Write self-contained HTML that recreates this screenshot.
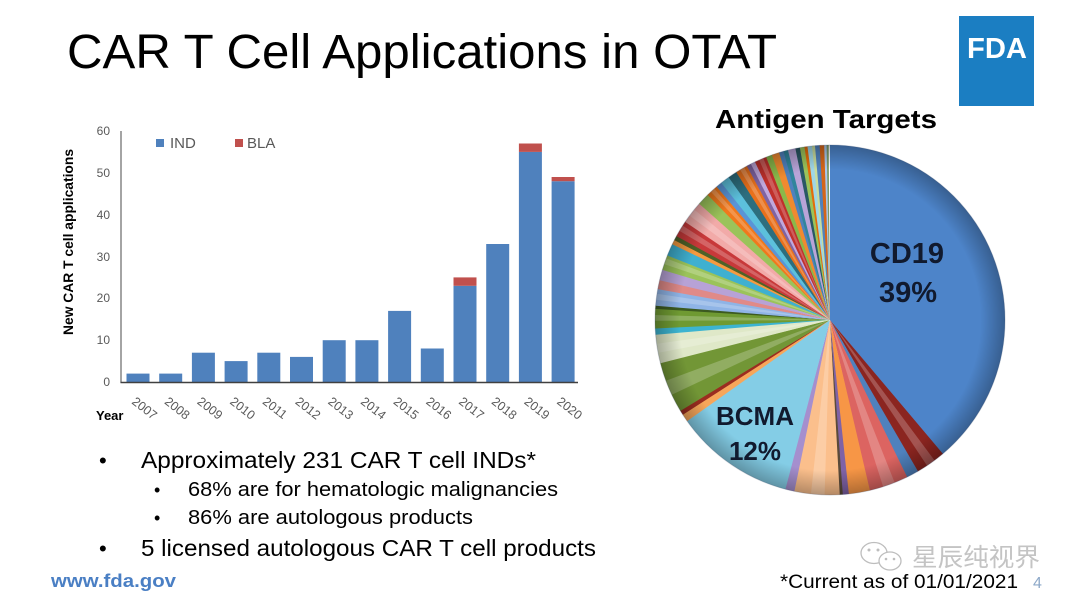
<!DOCTYPE html>
<html><head><meta charset="utf-8"><style>
html,body{margin:0;padding:0;background:#fff;}
svg{display:block;}
text{font-family:"Liberation Sans","Noto Sans CJK SC",sans-serif;}
</style></head><body>
<svg width="1080" height="608" viewBox="0 0 1080 608" xmlns="http://www.w3.org/2000/svg">
<defs>
<radialGradient id="rim" cx="830" cy="320" r="175" gradientUnits="userSpaceOnUse">
<stop offset="0" stop-color="#000" stop-opacity="0"/>
<stop offset="0.86" stop-color="#000" stop-opacity="0"/>
<stop offset="1" stop-color="#000" stop-opacity="0.28"/>
</radialGradient>
</defs>
<rect width="1080" height="608" fill="#fff"/>

<!-- Title -->
<text x="67" y="68" font-size="48" fill="#000" textLength="710" lengthAdjust="spacingAndGlyphs">CAR T Cell Applications in OTAT</text>

<!-- FDA logo -->
<rect x="959" y="16" width="75" height="90" fill="#1b7ec2"/>
<text x="967" y="58" font-size="29" font-weight="bold" fill="#fff" textLength="60" lengthAdjust="spacingAndGlyphs">FDA</text>

<!-- Bar chart -->
<g>
<text transform="translate(73,242) rotate(-90)" text-anchor="middle" font-size="13.5" font-weight="bold" fill="#000" textLength="186" lengthAdjust="spacingAndGlyphs">New CAR T cell applications</text>
<g font-size="12" fill="#595959" text-anchor="end">
<text x="110" y="135">60</text>
<text x="110" y="177">50</text>
<text x="110" y="219">40</text>
<text x="110" y="261">30</text>
<text x="110" y="302">20</text>
<text x="110" y="344">10</text>
<text x="110" y="386">0</text>
</g>
<rect x="156" y="139" width="8" height="8" fill="#4f81bd"/>
<text x="170" y="148" font-size="15" fill="#595959">IND</text>
<rect x="235" y="139" width="8" height="8" fill="#c0504d"/>
<text x="247" y="148" font-size="15" fill="#595959">BLA</text>

<g fill="#4f81bd">
<rect x="126.5" y="373.6" width="23" height="8.9"/>
<rect x="159.2" y="373.6" width="23" height="8.9"/>
<rect x="191.9" y="352.7" width="23" height="29.8"/>
<rect x="224.6" y="361.1" width="23" height="21.4"/>
<rect x="257.3" y="352.7" width="23" height="29.8"/>
<rect x="290" y="356.9" width="23" height="25.6"/>
<rect x="322.7" y="340.2" width="23" height="42.3"/>
<rect x="355.4" y="340.2" width="23" height="42.3"/>
<rect x="388.1" y="310.9" width="23" height="71.6"/>
<rect x="420.8" y="348.5" width="23" height="34"/>
<rect x="453.5" y="285.8" width="23" height="96.7"/>
<rect x="486.2" y="244" width="23" height="138.5"/>
<rect x="518.9" y="151.9" width="23" height="230.6"/>
<rect x="551.6" y="181.2" width="23" height="201.3"/>
</g>
<g fill="#c0504d">
<rect x="453.5" y="277.4" width="23" height="8.4"/>
<rect x="518.9" y="143.5" width="23" height="8.4"/>
<rect x="551.6" y="177" width="23" height="4.2"/>
</g>
<line x1="121" y1="131" x2="121" y2="382.5" stroke="#868686" stroke-width="1.5"/>
<line x1="120.5" y1="382.5" x2="578" y2="382.5" stroke="#404040" stroke-width="1.6"/>

<text x="96" y="420" font-size="13" font-weight="bold" fill="#000">Year</text>
<g font-size="12.5" fill="#595959">
<text transform="translate(131,403) rotate(38)">2007</text>
<text transform="translate(163.7,403) rotate(38)">2008</text>
<text transform="translate(196.4,403) rotate(38)">2009</text>
<text transform="translate(229.1,403) rotate(38)">2010</text>
<text transform="translate(261.8,403) rotate(38)">2011</text>
<text transform="translate(294.5,403) rotate(38)">2012</text>
<text transform="translate(327.2,403) rotate(38)">2013</text>
<text transform="translate(359.9,403) rotate(38)">2014</text>
<text transform="translate(392.6,403) rotate(38)">2015</text>
<text transform="translate(425.3,403) rotate(38)">2016</text>
<text transform="translate(458,403) rotate(38)">2017</text>
<text transform="translate(490.7,403) rotate(38)">2018</text>
<text transform="translate(523.4,403) rotate(38)">2019</text>
<text transform="translate(556.1,403) rotate(38)">2020</text>
</g>
</g>

<!-- Bullets -->
<g fill="#000">
<text x="99" y="468" font-size="22">•</text>
<text x="141" y="468" font-size="23" textLength="395" lengthAdjust="spacingAndGlyphs">Approximately 231 CAR T cell INDs*</text>
<text x="154" y="496" font-size="18">•</text>
<text x="188" y="496" font-size="20" textLength="370" lengthAdjust="spacingAndGlyphs">68% are for hematologic malignancies</text>
<text x="154" y="524" font-size="18">•</text>
<text x="188" y="524" font-size="20" textLength="285" lengthAdjust="spacingAndGlyphs">86% are autologous products</text>
<text x="99" y="556" font-size="22">•</text>
<text x="141" y="556" font-size="23" textLength="455" lengthAdjust="spacingAndGlyphs">5 licensed autologous CAR T cell products</text>
</g>
<text x="51" y="587" font-size="18" font-weight="bold" fill="#4a7fc4" textLength="125" lengthAdjust="spacingAndGlyphs">www.fda.gov</text>

<!-- Antigen Targets -->
<text x="715" y="128" font-size="26" font-weight="bold" fill="#000" textLength="222" lengthAdjust="spacingAndGlyphs">Antigen Targets</text>

<!-- Pie -->
<g transform="rotate(-90 830 320)" fill="none" stroke-width="175">
<circle cx="830" cy="320" r="87.5" pathLength="360" stroke="#4d84c9" stroke-dasharray="140.3 360" stroke-dashoffset="0"/>
<circle cx="830" cy="320" r="87.5" pathLength="360" stroke="#8b2520" stroke-dasharray="10.3 360" stroke-dashoffset="-140"/>
<circle cx="830" cy="320" r="87.5" pathLength="360" stroke="#4f81bd" stroke-dasharray="4.3 360" stroke-dashoffset="-150"/>
<circle cx="830" cy="320" r="87.5" pathLength="360" stroke="#dc6461" stroke-dasharray="13.3 360" stroke-dashoffset="-154"/>
<circle cx="830" cy="320" r="87.5" pathLength="360" stroke="#f79646" stroke-dasharray="7.3 360" stroke-dashoffset="-167"/>
<circle cx="830" cy="320" r="87.5" pathLength="360" stroke="#7f62a6" stroke-dasharray="2.3 360" stroke-dashoffset="-174"/>
<circle cx="830" cy="320" r="87.5" pathLength="360" stroke="#5a4a3a" stroke-dasharray="1.3 360" stroke-dashoffset="-176"/>
<circle cx="830" cy="320" r="87.5" pathLength="360" stroke="#fbbf8c" stroke-dasharray="15.3 360" stroke-dashoffset="-177"/>
<circle cx="830" cy="320" r="87.5" pathLength="360" stroke="#a58fce" stroke-dasharray="3.3 360" stroke-dashoffset="-192"/>
<circle cx="830" cy="320" r="87.5" pathLength="360" stroke="#84cde6" stroke-dasharray="40.3 360" stroke-dashoffset="-195"/>
<circle cx="830" cy="320" r="87.5" pathLength="360" stroke="#f7a65a" stroke-dasharray="2.8 360" stroke-dashoffset="-235"/>
<circle cx="830" cy="320" r="87.5" pathLength="360" stroke="#9b2d20" stroke-dasharray="1.8 360" stroke-dashoffset="-237.5"/>
<circle cx="830" cy="320" r="87.5" pathLength="360" stroke="#729636" stroke-dasharray="17.3 360" stroke-dashoffset="-239"/>
<circle cx="830" cy="320" r="87.5" pathLength="360" stroke="#dfe8c8" stroke-dasharray="9.8 360" stroke-dashoffset="-256"/>
<circle cx="830" cy="320" r="87.5" pathLength="360" stroke="#3cb4d0" stroke-dasharray="2.3 360" stroke-dashoffset="-265.5"/>
<circle cx="830" cy="320" r="87.5" pathLength="360" stroke="#6f9a32" stroke-dasharray="6.8 360" stroke-dashoffset="-267.5"/>
<circle cx="830" cy="320" r="87.5" pathLength="360" stroke="#3c5a20" stroke-dasharray="1.3 360" stroke-dashoffset="-274"/>
<circle cx="830" cy="320" r="87.5" pathLength="360" stroke="#8fb4e6" stroke-dasharray="5.8 360" stroke-dashoffset="-275"/>
<circle cx="830" cy="320" r="87.5" pathLength="360" stroke="#e08a88" stroke-dasharray="3.3 360" stroke-dashoffset="-280.5"/>
<circle cx="830" cy="320" r="87.5" pathLength="360" stroke="#b7a2d6" stroke-dasharray="3.8 360" stroke-dashoffset="-283.5"/>
<circle cx="830" cy="320" r="87.5" pathLength="360" stroke="#9bc35a" stroke-dasharray="5.3 360" stroke-dashoffset="-287"/>
<circle cx="830" cy="320" r="87.5" pathLength="360" stroke="#3fb0d0" stroke-dasharray="4.3 360" stroke-dashoffset="-292"/>
<circle cx="830" cy="320" r="87.5" pathLength="360" stroke="#f59a40" stroke-dasharray="1.8 360" stroke-dashoffset="-296"/>
<circle cx="830" cy="320" r="87.5" pathLength="360" stroke="#4f6228" stroke-dasharray="1.8 360" stroke-dashoffset="-297.5"/>
<circle cx="830" cy="320" r="87.5" pathLength="360" stroke="#c8393a" stroke-dasharray="5.8 360" stroke-dashoffset="-299"/>
<circle cx="830" cy="320" r="87.5" pathLength="360" stroke="#f2aaa8" stroke-dasharray="7.8 360" stroke-dashoffset="-304.5"/>
<circle cx="830" cy="320" r="87.5" pathLength="360" stroke="#9bc35a" stroke-dasharray="4.3 360" stroke-dashoffset="-312"/>
<circle cx="830" cy="320" r="87.5" pathLength="360" stroke="#f0781c" stroke-dasharray="4.3 360" stroke-dashoffset="-316"/>
<circle cx="830" cy="320" r="87.5" pathLength="360" stroke="#5a94d6" stroke-dasharray="2.3 360" stroke-dashoffset="-320"/>
<circle cx="830" cy="320" r="87.5" pathLength="360" stroke="#5cc0dc" stroke-dasharray="3.3 360" stroke-dashoffset="-322"/>
<circle cx="830" cy="320" r="87.5" pathLength="360" stroke="#2d6e7e" stroke-dasharray="3.3 360" stroke-dashoffset="-325"/>
<circle cx="830" cy="320" r="87.5" pathLength="360" stroke="#e8701c" stroke-dasharray="4.3 360" stroke-dashoffset="-328"/>
<circle cx="830" cy="320" r="87.5" pathLength="360" stroke="#8064a2" stroke-dasharray="1.8 360" stroke-dashoffset="-332"/>
<circle cx="830" cy="320" r="87.5" pathLength="360" stroke="#c0a8dc" stroke-dasharray="1.8 360" stroke-dashoffset="-333.5"/>
<circle cx="830" cy="320" r="87.5" pathLength="360" stroke="#c0302c" stroke-dasharray="4.3 360" stroke-dashoffset="-335"/>
<circle cx="830" cy="320" r="87.5" pathLength="360" stroke="#8ab84a" stroke-dasharray="2.3 360" stroke-dashoffset="-339"/>
<circle cx="830" cy="320" r="87.5" pathLength="360" stroke="#f08a30" stroke-dasharray="2.8 360" stroke-dashoffset="-341"/>
<circle cx="830" cy="320" r="87.5" pathLength="360" stroke="#4f81bd" stroke-dasharray="1.8 360" stroke-dashoffset="-343.5"/>
<circle cx="830" cy="320" r="87.5" pathLength="360" stroke="#31859c" stroke-dasharray="1.8 360" stroke-dashoffset="-345"/>
<circle cx="830" cy="320" r="87.5" pathLength="360" stroke="#b8a4d8" stroke-dasharray="2.8 360" stroke-dashoffset="-346.5"/>
<circle cx="830" cy="320" r="87.5" pathLength="360" stroke="#2a5864" stroke-dasharray="1.8 360" stroke-dashoffset="-349"/>
<circle cx="830" cy="320" r="87.5" pathLength="360" stroke="#9bc35a" stroke-dasharray="1.8 360" stroke-dashoffset="-350.5"/>
<circle cx="830" cy="320" r="87.5" pathLength="360" stroke="#e46c0a" stroke-dasharray="1.3 360" stroke-dashoffset="-352"/>
<circle cx="830" cy="320" r="87.5" pathLength="360" stroke="#9fd6e6" stroke-dasharray="1.8 360" stroke-dashoffset="-353"/>
<circle cx="830" cy="320" r="87.5" pathLength="360" stroke="#c8dc9e" stroke-dasharray="1.3 360" stroke-dashoffset="-354.5"/>
<circle cx="830" cy="320" r="87.5" pathLength="360" stroke="#4f81bd" stroke-dasharray="1.8 360" stroke-dashoffset="-355.5"/>
<circle cx="830" cy="320" r="87.5" pathLength="360" stroke="#d4661a" stroke-dasharray="1.8 360" stroke-dashoffset="-357"/>
<circle cx="830" cy="320" r="87.5" pathLength="360" stroke="#a9c8ee" stroke-dasharray="1.1 360" stroke-dashoffset="-358.5"/>
<circle cx="830" cy="320" r="87.5" pathLength="360" stroke="#7a9a6a" stroke-dasharray="0.7 360" stroke-dashoffset="-359.3"/>
<!-- gloss stripes -->
<g stroke="#fff" stroke-opacity="0.22">
<circle cx="830" cy="320" r="87.5" pathLength="360" stroke-dasharray="3 360" stroke-dashoffset="-143.5"/>
<circle cx="830" cy="320" r="87.5" pathLength="360" stroke-dasharray="4 360" stroke-dashoffset="-158.5"/>
<circle cx="830" cy="320" r="87.5" pathLength="360" stroke-dasharray="4.5 360" stroke-dashoffset="-182"/>
<circle cx="830" cy="320" r="87.5" pathLength="360" stroke-dasharray="5 360" stroke-dashoffset="-245"/>
<circle cx="830" cy="320" r="87.5" pathLength="360" stroke-dasharray="3 360" stroke-dashoffset="-259.5"/>
<circle cx="830" cy="320" r="87.5" pathLength="360" stroke-dasharray="2 360" stroke-dashoffset="-270"/>
<circle cx="830" cy="320" r="87.5" pathLength="360" stroke-dasharray="2 360" stroke-dashoffset="-277"/>
<circle cx="830" cy="320" r="87.5" pathLength="360" stroke-dasharray="2 360" stroke-dashoffset="-289"/>
<circle cx="830" cy="320" r="87.5" pathLength="360" stroke-dasharray="2 360" stroke-dashoffset="-301"/>
<circle cx="830" cy="320" r="87.5" pathLength="360" stroke-dasharray="2.5 360" stroke-dashoffset="-307"/>
<circle cx="830" cy="320" r="87.5" pathLength="360" stroke-dasharray="1.5 360" stroke-dashoffset="-317.5"/>
<circle cx="830" cy="320" r="87.5" pathLength="360" stroke-dasharray="1.5 360" stroke-dashoffset="-329.5"/>
<circle cx="830" cy="320" r="87.5" pathLength="360" stroke-dasharray="1.5 360" stroke-dashoffset="-336.5"/>
</g>
</g>
<circle cx="830" cy="320" r="175" fill="url(#rim)"/>
<circle cx="830" cy="320" r="175" fill="none" stroke="#3a4a66" stroke-opacity="0.25" stroke-width="1"/>

<g font-weight="bold" fill="#111a2e" text-anchor="middle">
<text x="907" y="263" font-size="29">CD19</text>
<text x="908" y="302" font-size="29">39%</text>
<text x="755" y="425" font-size="26">BCMA</text>
<text x="755" y="460" font-size="26">12%</text>
</g>

<!-- Watermark -->
<g fill="#fff" stroke="#bdbdbd" stroke-width="1.3">
<ellipse cx="874" cy="553" rx="13" ry="10.5"/>
<ellipse cx="890" cy="561" rx="11" ry="9"/>
</g>
<g fill="#bdbdbd">
<circle cx="869" cy="550" r="1.5"/><circle cx="878" cy="550" r="1.5"/>
<circle cx="886" cy="559" r="1.3"/><circle cx="894" cy="559" r="1.3"/>
</g>
<text x="912" y="566" font-size="25" fill="#c4c4c4" font-family="'Noto Sans CJK SC',sans-serif" textLength="128" lengthAdjust="spacingAndGlyphs">星辰纯视界</text>

<!-- Footer -->
<text x="780" y="588" font-size="19" fill="#000" textLength="238" lengthAdjust="spacingAndGlyphs">*Current as of 01/01/2021</text>
<text x="1033" y="588" font-size="16" fill="#8ea9c9">4</text>
</svg>
</body></html>
